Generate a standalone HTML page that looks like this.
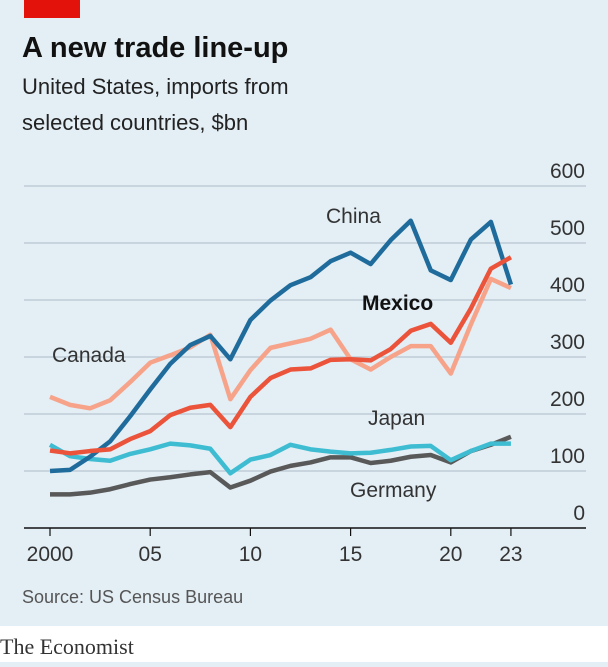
<!DOCTYPE html>
<html><head><meta charset="utf-8"><style>
body{margin:0;background:#e3eef5;width:608px;height:662px;overflow:hidden;font-family:"Liberation Sans",sans-serif}
</style></head><body>
<svg width="608" height="662" viewBox="0 0 608 662">
<rect x="0" y="0" width="608" height="662" fill="#e3eef5"/>
<rect x="24" y="0" width="56" height="18" fill="#e3120b"/>
<text x="22" y="57" font-size="29" font-weight="bold" fill="#111">A new trade line-up</text>
<text x="22" y="94" font-size="22" fill="#222">United States, imports from</text>
<text x="22" y="130" font-size="22" fill="#222">selected countries, $bn</text>
<g id="grid"></g>
<g id="lines"></g>
<text x="326" y="223" font-size="21" fill="#333">China</text>
<text x="362" y="310" font-size="21" font-weight="bold" fill="#111">Mexico</text>
<text x="52" y="362" font-size="21" fill="#333">Canada</text>
<text x="368" y="425" font-size="21" fill="#333">Japan</text>
<text x="350" y="497" font-size="21" fill="#333">Germany</text>
<text x="22" y="603" font-size="18" fill="#555">Source: US Census Bureau</text>
<rect x="0" y="626" width="608" height="36" fill="#fff"/>
<text x="0" y="654" font-size="22" font-family="Liberation Serif,serif" fill="#333">The Economist</text>
</svg>
<script>
const years=[2000,2001,2002,2003,2004,2005,2006,2007,2008,2009,2010,2011,2012,2013,2014,2015,2016,2017,2018,2019,2020,2021,2022,2023];
const yTicks=[0,100,200,300,400,500,600];
const xTickLabels=["2000","05","10","15","20","23"];
const xTickYears=[2000,2005,2010,2015,2020,2023];
const canada=[230,216,210,224,256,290,303,317,339,226,277,316,324,332,348,296,278,300,319,319,271,357,437,421];
const germany=[59,59,62,68,77,85,89,94,98,71,83,99,109,115,124,124,114,118,125,128,115,135,146,160];
const japan=[146,126,121,118,130,138,148,145,139,96,120,128,146,138,134,131,132,137,143,144,119,135,148,148];
const china=[100,102,125,152,196,243,288,321,337,296,365,399,426,440,468,483,463,505,539,452,435,506,537,427];
const mexico=[136,131,135,138,156,170,198,211,216,177,230,263,278,280,295,296,294,314,346,358,325,385,455,475];
const NS="http://www.w3.org/2000/svg";
const xS=y=>50+(y-2000)*20.04;
const yS=v=>528-v*0.57;
const grid=document.getElementById('grid');
yTicks.forEach(t=>{
 const l=document.createElementNS(NS,'line');
 l.setAttribute('x1',24);l.setAttribute('x2',586);l.setAttribute('y1',yS(t));l.setAttribute('y2',yS(t));
 l.setAttribute('stroke',t===0?'#111':'#b7c6d0');l.setAttribute('stroke-width',t===0?1.5:1.2);
 
 
 grid.appendChild(l);
 const tx=document.createElementNS(NS,'text');
 tx.setAttribute('x',585);tx.setAttribute('y',yS(t)-8);tx.setAttribute('text-anchor','end');
 tx.setAttribute('font-size','21');tx.setAttribute('fill','#333');tx.textContent=t;
 
 
 grid.appendChild(tx);
});
xTickYears.forEach((y,i)=>{
 const l=document.createElementNS(NS,'line');
 l.setAttribute('x1',xS(y));l.setAttribute('x2',xS(y));l.setAttribute('y1',528);l.setAttribute('y2',536);
 l.setAttribute('stroke','#111');l.setAttribute('stroke-width',1.2);
 
 
 grid.appendChild(l);
 const tx=document.createElementNS(NS,'text');
 tx.setAttribute('x',xS(y));tx.setAttribute('y',561);tx.setAttribute('text-anchor','middle');
 tx.setAttribute('font-size','21');tx.setAttribute('fill','#333');tx.textContent=xTickLabels[i];
 
 
 grid.appendChild(tx);
});
const lines=document.getElementById('lines');
[[canada,'#f6a38a','canada'],[germany,'#595959','germany'],[japan,'#3ebcd2','japan'],[china,'#1f6c9c','china'],[mexico,'#eb533a','mexico']].forEach(([d,c,n])=>{
 const p=document.createElementNS(NS,'polyline');
 p.setAttribute('points',d.map((v,i)=>xS(years[i])+','+yS(v)).join(' '));
 p.setAttribute('fill','none');p.setAttribute('stroke',c);p.setAttribute('stroke-width',4.5);
 p.setAttribute('stroke-linejoin','round');
 
 
 lines.appendChild(p);
});
</script>
</body></html>
